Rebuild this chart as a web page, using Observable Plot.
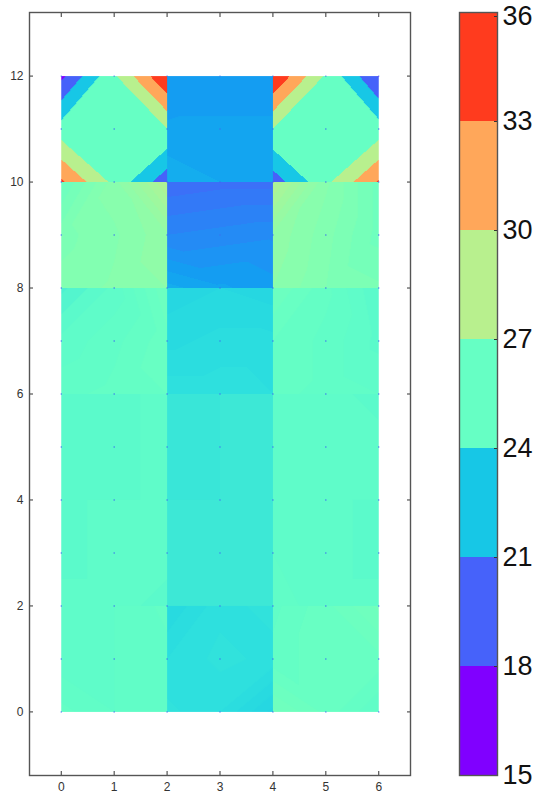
<!DOCTYPE html>
<html>
<head>
<meta charset="utf-8">
<script src="https://cdn.jsdelivr.net/npm/d3@7"></script>
<script src="https://cdn.jsdelivr.net/npm/@observablehq/plot@0.6"></script>
<style>
html,body{margin:0;padding:0;background:#fff;}
#chart{position:relative;width:538px;height:794px;overflow:hidden;}
#chart svg{position:absolute;left:0;top:0;background:transparent;}
</style>
</head>
<body>
<div id="chart"></div>
<script>
// Node values of each 2x2 panel, columns left/middle/right; nodes read top-left to bottom-right
const row0 = [[25.1,25.2,25.4, 25.1,25.2,25.3, 25.4,25.2,25.2],[23.4,23.8,23.9, 23.7,23.9,23.8, 23.9,23.7,23.2],[25.3,25.6,26.0, 25.4,25.6,25.6, 26.0,25.6,25.2]];
const row1 = [[25.0,25.1,25.2, 25.0,25.1,25.1, 25.1,25.1,25.0],[24.3,24.4,24.4, 24.4,24.4,24.3, 24.3,24.3,24.3],[25.2,25.1,25.0, 25.2,25.1,25.0, 25.3,25.1,25.1]];
const row2 = [[25.0,25.0,25.1, 25.0,25.0,25.1, 25.0,25.0,25.1],[24.2,24.3,24.3, 24.2,24.3,24.3, 24.2,24.3,24.3],[25.2,25.1,25.0, 25.2,25.1,25.1, 25.2,25.1,25.1]];
const row3 = [[24.7,25.1,25.8, 25.1,25.3,25.6, 25.3,25.4,25.5],[23.3,23.4,23.3, 23.5,23.6,23.6, 23.8,23.8,23.7],[25.8,25.4,24.9, 25.5,25.3,25.0, 25.4,25.3,25.2]];
const row4 = [[25.7,26.9,28.3, 26.4,26.7,27.2, 26.6,26.8,27.0],[19.8,19.9,19.9, 20.5,20.6,20.7, 21.6,21.3,21.1],[28.3,26.8,25.9, 27.2,26.6,25.9, 27.0,26.5,26.3]];
const row5 = [[17.3,26.6,36.0, 25.3,26.0,26.95, 33.5,26.2,19.0],[21.0,21.1,21.1, 21.3,21.3,21.3, 21.7,21.5,21.4],[36.0,26.6,17.7, 26.95,26.0,25.4, 19.3,26.3,33.4]];
const rows = [row0, row1, row2, row3, row4, row5];
const bandStep = [[0.15,0.15,0.15],[0.15,0.15,0.15],[0.15,0.15,0.15],[0.15,0.15,0.15],[0.25,0.25,0.25],[3,0.25,3]];

const xTicks = [0, 1, 2, 3, 4, 5, 6];
const yTicks = [0, 2, 4, 6, 8, 10, 12];
const nodeY = [0,1,2,3,4,5,6,7,8,9,10,11,12];
const barTicks = [15, 18, 21, 24, 27, 30, 33];
const barTopTick = [36];
const bandMid = [16.5, 19.5, 22.5, 25.5, 28.5, 31.5, 34.5];
const colorStops = [16.5, 19.5, 21.2, 22.5, 23.8, 24.4, 25, 25.5, 26.8, 28.5, 31.5, 34.5];
const colorRange = ["#8000ff","#4662fa","#12a0f2","#17c7e6","#2ee0de","#3ee8d6","#5cfbcb","#66ffc4","#86ffae","#b8f08e","#ffa75a","#ff3b1e"];

const colorOpts = {type:"linear", domain:colorStops, range:colorRange, clamp:true};

function field(x, y) {
  const col = Math.min(2, Math.floor(x / 2));
  const row = Math.max(0, Math.min(5, Math.floor(y / 2)));
  const n = rows[row][col];
  const a = x - 2 * col, b = 2 * row + 2 - y;
  const i = Math.min(1, Math.floor(a)), j = Math.max(0, Math.min(1, Math.floor(b)));
  const s = a - i, t = b - j;
  const A = n[j*3+i], B = n[j*3+i+1], C = n[(j+1)*3+i], D = n[(j+1)*3+i+1];
  let v;
  if (i === j) {
    v = s + t <= 1 ? A + (B-A)*s + (C-A)*t : D + (B-D)*(1-t) + (C-D)*(1-s);
  } else {
    v = s >= t ? A + (B-A)*s + (D-B)*t : A + (C-A)*t + (D-C)*s;
  }
  const st = bandStep[row][col];
  return Math.floor(v / st) * st + st / 2;
}

const nodes = d3.cross(xTicks, nodeY);
const ink = "#333";

const main = Plot.plot({
  width: 538, height: 794,
  marginLeft: 29, marginRight: 128, marginTop: 12, marginBottom: 19,
  x: {domain:[-0.6,6.6]},
  y: {domain:[-1.2,13.2]},
  color: colorOpts,
  style: {fontFamily:"'Liberation Sans',Arial,sans-serif", background:"transparent"},
  marks: [
    Plot.raster({fill:field, x1:0, x2:6, y1:0, y2:12, pixelSize:1}),
    Plot.dot(nodes, {x:d=>d[0], y:d=>d[1], r:0.7, fill:"#3a6cf0"}),
    Plot.axisX(xTicks, {anchor:"bottom", tickSize:-4, tickPadding:11, label:null, fontSize:12, color:ink, stroke:ink, tickFormat:"d"}),
    Plot.axisX(xTicks, {anchor:"top", tickSize:-4, label:null, tickFormat:()=>"", stroke:ink}),
    Plot.axisY(yTicks, {anchor:"left", tickSize:-4, tickPadding:10, label:null, fontSize:12, color:ink, stroke:ink, tickFormat:"d"}),
    Plot.axisY(yTicks, {anchor:"right", tickSize:-4, label:null, tickFormat:()=>"", stroke:ink}),
    Plot.frame({stroke:"#555", strokeWidth:1.4})
  ]
});

const bar = Plot.plot({
  width: 538, height: 794,
  marginLeft: 459, marginRight: 41, marginTop: 12, marginBottom: 19,
  x: {domain:[0,1], axis:null},
  y: {domain:[15,36]},
  color: colorOpts,
  style: {fontFamily:"'Liberation Sans',Arial,sans-serif", background:"transparent"},
  marks: [
    Plot.rect(bandMid, {x1:()=>0, x2:()=>1, y1:d=>d-1.5, y2:d=>d+1.5, fill:d=>d}),
    Plot.axisY(barTicks, {anchor:"right", tickSize:-4, tickPadding:9, label:null, fontSize:27, color:"#111", stroke:"#333", tickFormat:"d"}),
    Plot.axisY(barTopTick, {anchor:"right", tickSize:-4, tickPadding:9, label:null, fontSize:27, color:"#111", stroke:"#333", tickFormat:"d", dy:4}),
    Plot.frame({stroke:"#555", strokeWidth:1.4})
  ]
});

const host = document.getElementById("chart");
host.appendChild(main);
host.appendChild(bar);
</script>
</body>
</html>
